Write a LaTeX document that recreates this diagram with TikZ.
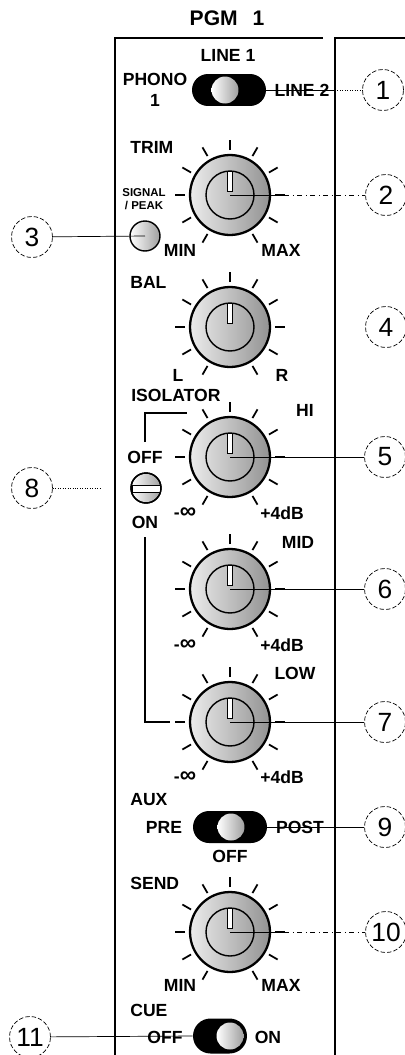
\documentclass[tikz,border=0pt]{standalone}
\usepackage{fontspec}
\setmainfont{Liberation Sans}
\usepackage{tikz}
\usetikzlibrary{positioning}
\tikzset{
    knob/.style={
      circle,
      draw=black,
      line width=1.3pt,
      minimum size=1.6cm,
      left color=gray!15,
      right color=gray!85,
      inner sep=0pt
    },
    pill/.style={
      rectangle,
      rounded corners=0.32cm,
      fill=black,
      minimum width=1.48cm,
      minimum height=0.64cm,
      inner sep=0pt
    },
    ball/.style={
      circle,
      minimum size=0.54cm,
      left color=white,
      right color=gray!75,
      inner sep=0pt
    },
    lamp/.style={
      circle,
      draw=black,
      thick,
      minimum size=0.6cm,
      left color=white,
      right color=gray!75,
      inner sep=0pt
    },
    callout/.style={
      circle,
      draw=black,
      thin,
      dash pattern=on 2.5pt off 1.2pt,
      minimum size=0.82cm,
      inner sep=0pt,
      font=\fontsize{15}{16}\selectfont
    },
    title/.style={font=\bfseries\fontsize{12}{14}\selectfont},
    lbl/.style={font=\bfseries\fontsize{10}{12}\selectfont,inner sep=0pt,align=center},
    tiny/.style={font=\bfseries\fontsize{6.5}{7.5}\selectfont,inner sep=0pt,align=center},
}
\newcommand{\ninf}{-{\fontsize{13}{12}\selectfont ∞}}

\begin{document}
\begin{tikzpicture}[x=0.02cm,y=-0.02cm]
    \useasboundingbox (0,0) rectangle (405,1055);

    % panel
    \draw[line width=1.2pt] (115,1055) -- (115,38) -- (323,38);
    \draw[line width=1.2pt] (335,1055) -- (335,38) -- (405,38);
    \draw (227,18) node[title] (T) {PGM\hspace{0.7em}1};

    % input switch
    \draw (229,90) node[pill] (SW1) {};
    \draw (225,90) node[ball] (B1) {};
    \draw (228,55) node[lbl] (L1) {LINE 1};
    \draw (155,90) node[lbl] (PH) {PHONO\\1};
    \draw (302,90) node[lbl] (L2) {LINE 2};

    % knobs
    \draw (230,195) node[knob] (K2) {};
    \draw (230,327) node[knob] (K4) {};
    \draw (230,457) node[knob] (K5) {};
    \draw (230,589) node[knob] (K6) {};
    \draw (230,722) node[knob] (K7) {};
    \draw (230,932) node[knob] (K10) {};
    \foreach \k in {K2,K4,K5,K6,K7,K10} {
      \foreach \a in {-60,-30,...,240}
        \draw[line width=1pt] ([shift={(\a:0.9cm)}]\k.center) -- ([shift={(\a:1.1cm)}]\k.center);
      \draw[thick] (\k.center) circle (0.48cm);
      \draw[thin,fill=white] ([shift={(-0.045cm,0.08cm)}]\k.center) rectangle ([shift={(0.045cm,0.48cm)}]\k.center);
    }

    \draw (130,147) node[lbl,anchor=west] (TRIM) {TRIM};
    \draw (144,199) node[tiny] (SP) {SIGNAL\\/ PEAK};
    \draw (145,236) node[lamp] (LED) {};
    \draw (180,250) node[lbl] (MIN1) {MIN};
    \draw (281,250) node[lbl] (MAX1) {MAX};

    \draw (130,282) node[lbl,anchor=west] (BAL) {BAL};
    \draw (178,375) node[lbl] (LL) {L};
    \draw (282,375) node[lbl] (RR) {R};

    \draw (131,395) node[lbl,anchor=west] (ISO) {ISOLATOR};
    \draw (305,410) node[lbl] (HI) {HI};
    \draw (185,513) node[lbl] (NI1) {\ninf};
    \draw (282,513) node[lbl] (DB1) {+4dB};
    \draw (298,542) node[lbl] (MID) {MID};
    \draw (185,645) node[lbl] (NI2) {\ninf};
    \draw (282,645) node[lbl] (DB2) {+4dB};
    \draw (295,673) node[lbl] (LOW) {LOW};
    \draw (185,777) node[lbl] (NI3) {\ninf};
    \draw (282,777) node[lbl] (DB3) {+4dB};

    % isolator switch
    \draw (145,457) node[lbl] (OFF8) {OFF};
    \draw (145,522) node[lbl] (ON8) {ON};
    \draw (146,488) node[lamp] (SW8) {};
    \draw[fill=white] ([shift={(-0.28cm,0.06cm)}]SW8.center) rectangle ([shift={(0.28cm,-0.08cm)}]SW8.center);
    \draw[thick] (SW8.center) circle (0.3cm);
    \coordinate (I1) at (145,442);
    \coordinate (I2) at (187,413);
    \coordinate (I3) at (145,537);
    \coordinate (I4) at (170,722);
    \draw[thick] (I1) |- (I2);
    \draw[thick] (I3) |- (I4);

    % aux
    \draw (130,800) node[lbl,anchor=west] (AUX) {AUX};
    \draw (230,827) node[pill] (SW9) {};
    \draw (231,827) node[ball] (B9) {};
    \draw (164,827) node[lbl] (PRE) {PRE};
    \draw (300,827) node[lbl] (POST) {POST};
    \draw (230,856) node[lbl] (OFF9) {OFF};

    \draw (130,883) node[lbl,anchor=west] (SEND) {SEND};
    \draw (180,985) node[lbl] (MIN2) {MIN};
    \draw (281,985) node[lbl] (MAX2) {MAX};

    % cue
    \draw (130,1010) node[lbl,anchor=west] (CUE) {CUE};
    \draw (220,1036) node[pill,minimum width=1.08cm,minimum height=0.7cm,rounded corners=0.35cm] (SW11) {};
    \draw (230,1036) node[ball] (B11) {};
    \draw (165,1037) node[lbl] (OFF11) {OFF};
    \draw (268,1037) node[lbl] (ON11) {ON};

    % callouts
    \draw (383,90) node[callout] (C1) {1};
    \draw (386,195) node[callout] (C2) {2};
    \draw (32,237) node[callout] (C3) {3};
    \draw (386,327) node[callout] (C4) {4};
    \draw (385,457) node[callout] (C5) {5};
    \draw (385,589) node[callout] (C6) {6};
    \draw (385,722) node[callout] (C7) {7};
    \draw (32,488) node[callout] (C8) {8};
    \draw (385,827) node[callout] (C9) {9};
    \draw (386,932) node[callout] (C10) {10};
    \draw (30,1037) node[callout] (C11) {11};

    \coordinate (E1) at (335,90);
    \coordinate (E8) at (100,488);
    \draw (SW1.east) -- (E1);
    \draw[densely dotted] (E1) -- (C1);
    \draw (K2.center) -- (K2.east);
    \draw[dash dot] (K2.east) -- (C2);
    \draw (C3) -- (LED.center);
    \draw (K5.center) -- (C5);
    \draw (K6.center) -- (C6);
    \draw (K7.center) -- (C7);
    \draw[densely dotted] (C8) -- (E8);
    \draw (SW9.east) -- (C9);
    \draw (K10.center) -- (K10.east);
    \draw[dash dot] (K10.east) -- (C10);
    \draw (C11) -- (SW11.west);
\end{tikzpicture}
\end{document}
